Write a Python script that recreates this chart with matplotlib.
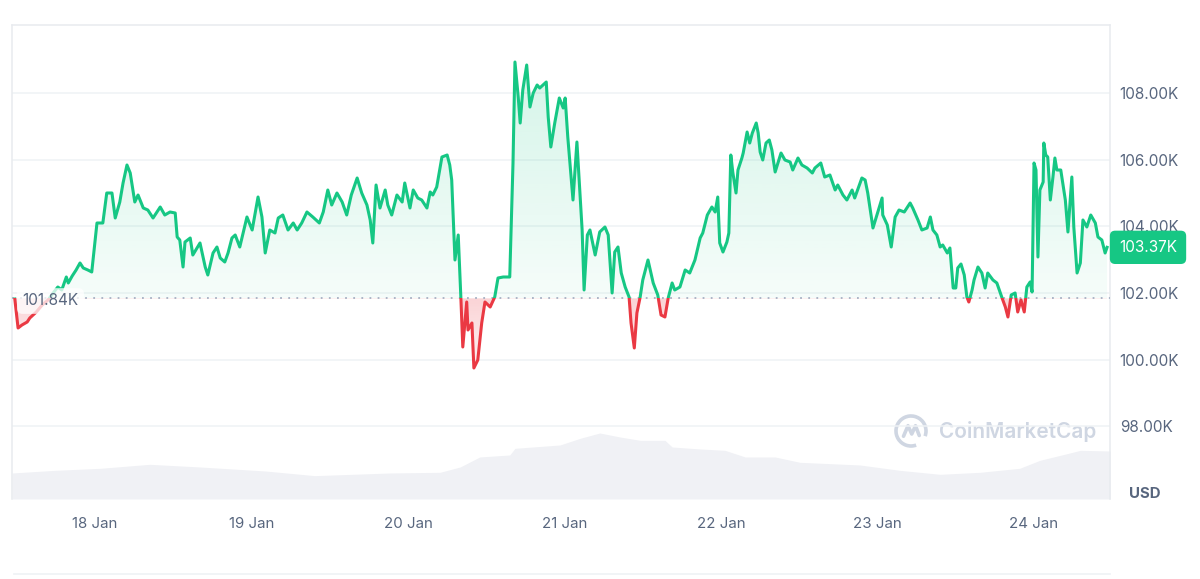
import numpy as np
import matplotlib
matplotlib.use("Agg")
import matplotlib.pyplot as plt
import matplotlib.transforms as mtransforms
from matplotlib.patches import Rectangle, Arc
from matplotlib.lines import Line2D

plt.rcParams['font.family'] = ['Inter', 'DejaVu Sans']

# BTC price, hours since 17 Jan 00:00, price in thousands USD
hours = [11.7, 12.2, 12.8, 13.6, 14.0, 15.0, 15.9, 16.8, 17.7, 18.3, 18.9, 19.6, 19.9, 20.5, 21.1, 21.7,
         22.2, 22.9, 23.5, 24.3, 25.2, 25.8, 26.6, 27.1, 27.8, 28.3, 28.9, 29.4, 30.1, 30.6, 31.4, 32.1,
         32.9, 34.0, 34.7, 35.5, 36.3, 36.6, 37.0, 37.5, 37.8, 38.6, 39.0, 40.1, 40.9, 41.3, 42.1, 42.7,
         43.2, 43.9, 44.4, 45.0, 45.5, 46.2, 47.3, 48.1, 49.0, 49.6, 50.1, 50.8, 51.6, 52.1, 52.8, 53.6,
         54.4, 55.0, 55.7, 56.5, 57.4, 58.4, 59.0, 59.7, 60.3, 61.1, 61.9, 62.6, 63.3, 64.2, 64.9, 65.7,
         66.2, 66.6, 67.1, 67.7, 68.5, 68.9, 69.5, 70.3, 71.1, 71.5, 72.3, 72.8, 73.5, 74.1, 74.9, 75.4,
         75.8, 76.4, 77.2, 78.0, 78.4, 78.7, 79.2, 79.7, 80.1, 80.4, 81.0, 81.2, 81.8, 82.1, 82.7, 83.3,
         83.8, 84.6, 85.3, 85.8, 86.6, 87.6, 88.1, 88.4, 88.9, 89.2, 89.6, 90.2, 90.7, 91.2, 91.8, 92.2,
         93.2, 93.5, 93.9, 94.5, 95.2, 95.8, 96.1, 96.5, 97.0, 97.3, 97.9, 98.7, 99.0, 99.5, 99.9, 100.7,
         101.4, 102.2, 102.7, 103.3, 103.7, 104.2, 104.7, 105.3, 105.9, 106.2, 106.7, 107.1, 107.6, 108.0,
         108.8, 109.6, 110.3, 110.8, 111.4, 111.9, 112.5, 112.9, 113.7, 114.5, 115.2, 116.0, 116.8, 117.2,
         117.9, 118.6, 119.1, 119.5, 119.8, 120.3, 120.9, 121.2, 121.5, 121.8, 122.3, 122.6, 123.2, 123.4,
         124.0, 124.4, 124.8, 125.4, 125.7, 126.0, 126.4, 126.9, 127.4, 127.8, 128.3, 129.2, 129.8, 130.6,
         131.0, 131.8, 132.4, 133.2, 134.0, 134.4, 135.3, 135.9, 136.7, 137.5, 137.9, 138.7, 139.3, 140.1,
         140.5, 141.6, 142.1, 142.5, 143.3, 143.9, 144.7, 144.8, 145.5, 146.1, 146.7, 147.3, 148.1, 149.0,
         149.4, 150.2, 150.8, 151.6, 152.1, 152.5, 153.1, 153.6, 154.0, 154.7, 155.1, 155.6, 156.0, 156.3,
         156.8, 157.3, 157.7, 158.0, 158.5, 158.8, 159.4, 160.0, 160.5, 160.9, 161.7, 162.3, 163.1, 163.6,
         164.0, 164.5, 165.1, 165.5, 166.0, 166.5, 166.9, 167.4, 167.7, 168.0, 168.3, 168.6, 168.9, 169.4,
         169.5, 169.8, 170.1, 170.5, 170.9, 171.2, 171.5, 172.1, 172.8, 173.2, 173.8, 174.1, 174.6, 175.1,
         175.5, 176.1, 176.7, 177.4, 177.8, 178.4, 178.9, 179.2]
price = [101.82, 100.95, 101.04, 101.13, 101.25, 101.43, 101.64, 101.79, 102.03, 102.18, 102.09, 102.48,
         102.30, 102.51, 102.69, 102.90, 102.75, 102.69, 102.63, 104.10, 104.10, 105.00, 105.00, 104.25,
         104.73, 105.30, 105.84, 105.60, 104.73, 104.94, 104.55, 104.49, 104.25, 104.58, 104.34, 104.43,
         104.40, 103.68, 103.59, 102.78, 103.53, 103.65, 103.14, 103.50, 102.78, 102.54, 103.20, 103.38,
         103.05, 102.93, 103.20, 103.65, 103.74, 103.38, 104.28, 103.89, 104.88, 104.28, 103.20, 103.89,
         103.80, 104.25, 104.34, 103.89, 104.10, 103.89, 104.10, 104.43, 104.28, 104.10, 104.43, 105.09,
         104.64, 105.00, 104.73, 104.34, 104.94, 105.45, 105.00, 104.64, 104.19, 103.50, 105.24, 104.55,
         105.09, 104.64, 104.34, 104.94, 104.73, 105.30, 104.55, 105.09, 104.85, 104.79, 104.55, 105.03,
         104.94, 105.18, 106.08, 106.14, 105.84, 105.39, 102.99, 103.74, 101.88, 100.38, 101.73, 100.89,
         101.10, 99.75, 99.99, 101.10, 101.73, 101.58, 101.88, 102.45, 102.48, 102.48, 105.90, 108.93,
         107.88, 107.10, 108.09, 108.84, 107.58, 108.00, 108.24, 108.15, 108.33, 107.28, 106.38, 107.10,
         107.85, 107.55, 107.85, 106.68, 105.48, 104.79, 106.53, 103.89, 102.09, 103.74, 103.89, 103.14,
         103.83, 103.98, 103.74, 102.00, 103.23, 103.38, 102.60, 102.18, 101.88, 101.10, 100.35, 101.40,
         101.88, 102.39, 102.99, 102.30, 101.94, 101.34, 101.28, 101.85, 102.30, 102.09, 102.18, 102.69,
         102.60, 102.99, 103.65, 103.80, 104.34, 104.58, 104.43, 104.88, 103.50, 103.23, 103.53, 103.80,
         106.14, 105.63, 105.00, 105.69, 106.05, 106.20, 106.83, 106.50, 106.80, 107.10, 106.80, 106.23,
         105.99, 106.50, 106.59, 106.29, 105.63, 106.20, 105.99, 105.93, 105.69, 106.05, 105.84, 105.75,
         105.60, 105.75, 105.90, 105.48, 105.54, 105.09, 105.24, 104.94, 104.79, 105.09, 104.85, 105.45,
         105.39, 105.00, 103.95, 104.34, 104.85, 104.34, 104.04, 103.38, 104.28, 104.49, 104.43, 104.70,
         104.55, 104.19, 103.89, 103.95, 104.28, 103.89, 103.74, 103.38, 103.44, 103.20, 103.35, 102.15,
         102.15, 102.75, 102.87, 102.54, 101.88, 101.73, 102.09, 102.39, 102.78, 102.60, 102.15, 102.60,
         102.39, 102.30, 101.85, 101.58, 101.28, 101.94, 102.00, 101.43, 101.79, 101.43, 102.18, 102.33,
         102.03, 105.90, 105.69, 103.08, 105.09, 105.33, 106.50, 106.14, 106.08, 104.79, 105.48, 106.05,
         105.69, 105.69, 104.79, 103.83, 105.48, 103.98, 102.60, 102.90, 104.19, 103.98, 104.34, 104.10,
         103.68, 103.59, 103.20, 103.37]

# 24h volume (billions USD)
vol_hours = [11.3, 17.9, 24.8, 32.4, 40.1, 50.1, 57.7, 69.2, 76.9, 80.0, 83.0, 87.6, 88.4, 95.3, 98.4,
             101.4, 104.5, 107.6, 111.4, 112.5, 116.8, 120.6, 123.7, 128.3, 132.1, 141.3, 147.4, 153.6,
             159.7, 165.8, 168.9, 173.5, 175.1, 179.7]
volume = [39, 43, 46, 52, 48, 42, 35, 39, 40, 48, 63, 66, 76, 81, 91, 99, 93, 88, 88, 78, 75, 73, 63, 63,
          55, 51, 43, 37, 40, 46, 58, 69, 73, 72]

base_price = 101.84
last_price = 103.37
day_ticks = [24, 48, 72, 96, 120, 144, 168]
day_labels = ["18 Jan", "19 Jan", "20 Jan", "21 Jan", "22 Jan", "23 Jan", "24 Jan"]
price_ticks = [98, 100, 102, 104, 106, 108]

GREEN = "#16c784"
RED = "#ea3943"
GRAY = "#58667e"
GRID = "#eff2f5"

xmin, xmax = 11.27, 179.65
ymin, ymax = 95.82, 110.04

fig = plt.figure(figsize=(12, 5.79), dpi=100)
fig.patch.set_facecolor("white")
ax = fig.add_axes([0.01, 0.1382, 0.915, 0.8186])
ax2 = ax.twinx()
ax.set_zorder(2)
ax2.set_zorder(1)
ax.patch.set_visible(False)

# volume
ax2.fill_between(vol_hours, volume, 0, color="#f0f1f5", lw=0)
ax2.set_ylim(0, 711)
ax2.axis("off")

# gradient fills
poly = ax.fill_between(hours, price, base_price, facecolor="none", edgecolor="none")
clip = poly.get_paths()[0]

g = np.zeros((256, 1, 4))
g[..., :3] = matplotlib.colors.to_rgb(GREEN)
g[:, 0, 3] = np.linspace(0.19, 0.04, 256)
im_g = ax.imshow(g, extent=[xmin, xmax, base_price, 109.2], aspect="auto", origin="upper", zorder=2)
im_g.set_clip_path(clip, transform=ax.transData)

r = np.zeros((256, 1, 4))
r[..., :3] = matplotlib.colors.to_rgb(RED)
r[:, 0, 3] = np.linspace(0.22, 0.06, 256)
im_r = ax.imshow(r, extent=[xmin, xmax, 99.6, base_price], aspect="auto", origin="upper", zorder=2)
im_r.set_clip_path(clip, transform=ax.transData)

# price line, green above base and red below
up, = ax.plot(hours, price, color=GREEN, lw=2.2, solid_joinstyle="round", zorder=4)
up.set_clip_path(Rectangle((xmin, base_price), xmax - xmin, ymax - base_price, transform=ax.transData))
dn, = ax.plot(hours, price, color=RED, lw=2.2, solid_joinstyle="round", zorder=4)
dn.set_clip_path(Rectangle((xmin, ymin), xmax - xmin, base_price - ymin, transform=ax.transData))

ax.axhline(base_price, color="#a6b0c3", ls=(0, (1, 3.5)), lw=1.3, zorder=3)

ax.set_xlim(xmin, xmax)
ax.set_ylim(ymin, ymax)
ax.set_xticks(day_ticks)
ax.set_xticklabels(day_labels)
ax.set_yticks(price_ticks)
ax.set_yticklabels([f"{v:.2f}K" for v in price_ticks])
ax.yaxis.tick_right()
ax.tick_params(axis="x", length=0, pad=13, labelsize=10.8, labelcolor=GRAY)
ax.tick_params(axis="y", length=0, pad=7, labelsize=11, labelcolor=GRAY)
ax.grid(axis="y", color=GRID, lw=1.1, zorder=0)
ax.grid(axis="x", visible=False)
for s in ["left", "right", "top"]:
    ax.spines[s].set_color("#e8ebef")
    ax.spines[s].set_linewidth(1.1)
ax.spines["bottom"].set_visible(False)

blend = mtransforms.blended_transform_factory(ax.transAxes, ax.transData)
ax.text(0.0095, base_price - 0.08, f"{base_price:.2f}K", transform=blend, ha="left", va="center",
        fontsize=11, color=GRAY, zorder=6,
        bbox=dict(boxstyle="round,pad=0.35", fc="white", ec="none", alpha=0.75))
ax.annotate(f"{last_price:.2f}K", xy=(1, last_price), xycoords=blend, xytext=(9, 0),
            textcoords="offset pixels", ha="left", va="center", color="white", fontsize=11,
            annotation_clip=False, zorder=10,
            bbox=dict(boxstyle="round,pad=0.6,rounding_size=0.35", fc=GREEN, ec="none"))

fig.text(1145 / 1200, 1 - 494 / 579, "USD", ha="center", va="center", fontsize=10.8,
         fontweight="bold", color=GRAY)

# watermark
fig.text(939 / 1200, 1 - 432 / 579, "CoinMarketCap", ha="left", va="center", fontsize=15,
         fontweight="semibold", color="#cfd6e2", zorder=1)
lax = fig.add_axes([893 / 1200, 1 - 449 / 579, 36 / 1200, 36 / 579])
lax.set_aspect("equal")
lax.set_xlim(-1.2, 1.2)
lax.set_ylim(-1.2, 1.2)
lax.axis("off")
lax.add_patch(Arc((0, 0), 2, 2, theta1=-20, theta2=290, color="#cfd6e2", lw=2.6))
lax.plot([-0.5, -0.2, 0.05, 0.3, 0.55], [-0.35, 0.35, -0.2, 0.35, -0.3], color="#cfd6e2", lw=2.6,
         solid_joinstyle="round", solid_capstyle="round")

fig.add_artist(Line2D([14 / 1200, 1110 / 1200], [1 - 574 / 579] * 2, color=GRID, lw=1.2))

fig.savefig("out.png", dpi=100, facecolor="white")
